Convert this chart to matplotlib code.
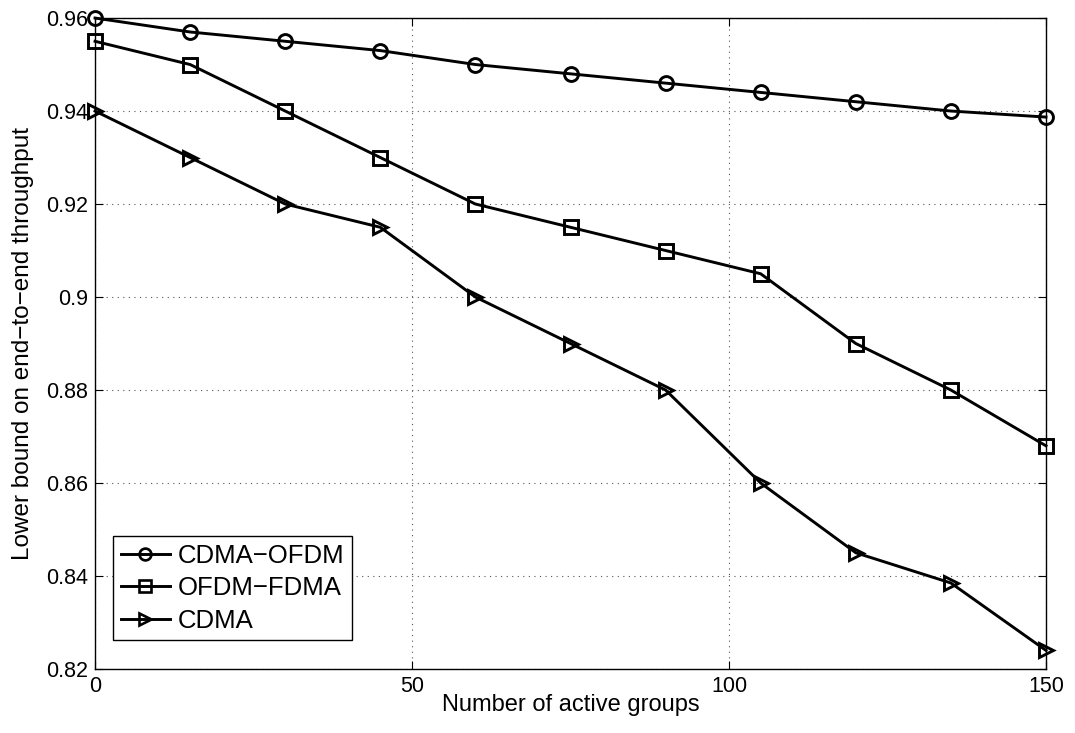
import matplotlib
matplotlib.use("Agg")
import matplotlib.pyplot as plt

plt.rcParams['font.family'] = ['Liberation Sans', 'DejaVu Sans']

groups = [0, 15, 30, 45, 60, 75, 90, 105, 120, 135, 150]
cdma_ofdm = [0.960, 0.957, 0.955, 0.953, 0.950, 0.948, 0.946, 0.944, 0.942, 0.940, 0.9387]
ofdm_fdma = [0.955, 0.950, 0.940, 0.930, 0.920, 0.915, 0.910, 0.905, 0.890, 0.880, 0.868]
cdma = [0.940, 0.930, 0.920, 0.915, 0.900, 0.890, 0.880, 0.860, 0.845, 0.8385, 0.824]

x_ticks = [0, 50, 100, 150]
y_ticks = [0.82, 0.84, 0.86, 0.88, 0.90, 0.92, 0.94, 0.96]
y_tick_labels = ['0.82', '0.84', '0.86', '0.88', '0.9', '0.92', '0.94', '0.96']

fig = plt.figure(figsize=(10.75, 7.33), dpi=100)
ax = fig.add_axes([0.0884, 0.0873, 0.8846, 0.8881])

style = dict(color='black', linewidth=2.1, markersize=10, markeredgewidth=2.1,
             markerfacecolor='none', clip_on=False, zorder=5)
ax.plot(groups, cdma_ofdm, marker='o', label='CDMA\u2212OFDM', **style)
ax.plot(groups, ofdm_fdma, marker='s', label='OFDM\u2212FDMA', **style)
ax.plot(groups, cdma, marker='>', label='CDMA', **style)

ax.set_xlim(0, 150)
ax.set_ylim(0.82, 0.96)
ax.set_xticks(x_ticks)
ax.set_yticks(y_ticks)
ax.set_yticklabels(y_tick_labels)
ax.tick_params(direction='in', top=True, right=True, length=6, width=0.8,
               labelsize=15.5, pad=5)
ax.grid(True, linestyle=(0, (1, 4)), color='#555555', linewidth=0.8)
for s in ax.spines.values():
    s.set_linewidth(1.0)

ax.set_xlabel('Number of active groups', fontsize=17, labelpad=-2)
ax.set_ylabel('Lower bound on end\u2212to\u2212end throughput', fontsize=17.5, labelpad=9)

leg = ax.legend(loc='lower left', bbox_to_anchor=(0.019, 0.044), fontsize=18.5,
                fancybox=False, framealpha=1, edgecolor='black', borderpad=0.3,
                handlelength=1.9, handletextpad=0.3, labelspacing=0.33,
                borderaxespad=0)
leg.get_frame().set_linewidth(1.0)
for h in leg.legend_handles:
    h.set_markersize(8.5)
    h.set_markeredgewidth(1.9)

fig.savefig('out.png', dpi=100)
